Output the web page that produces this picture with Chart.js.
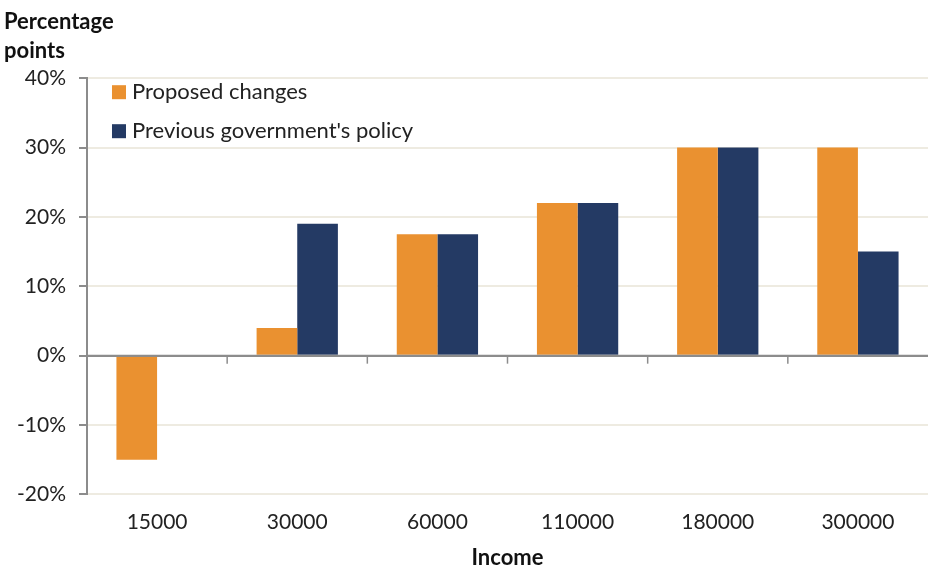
<!DOCTYPE html>
<html>
<head>
<meta charset="utf-8">
<script src="https://cdn.jsdelivr.net/npm/chart.js@4"></script>
<style>
  html, body { margin: 0; padding: 0; background: #fff; }
  #wrap { width: 928px; height: 566px; }
</style>
</head>
<body>
<div id="wrap"><canvas id="myChart" width="928" height="566"></canvas></div>
<script>
// data
const incomes = ["15000", "30000", "60000", "110000", "180000", "300000"];
const proposed = [-15, 4, 17.5, 22, 30, 30];
const previous = [null, 19, 17.5, 22, 30, 15];
const seriesNames = ["Proposed changes", "Previous government's policy"];
const yTicks = [-20, -10, 0, 10, 20, 30, 40];

const orange = "#EA9130";
const navy = "#243A64";
const axisGrey = "#8C8C8C";
const gridBeige = "#EEEBE1";
const fontFamily = "Lato, 'Open Sans', sans-serif";

// legend drawn inside the plot, top left
const insideLegend = {
  id: "insideLegend",
  afterDraw(chart) {
    const { ctx, chartArea: { left, top } } = chart;
    ctx.save();
    ctx.font = "22px " + fontFamily;
    ctx.textBaseline = "middle";
    chart.data.datasets.forEach((ds, i) => {
      const y = top + 14 + i * 39;
      ctx.fillStyle = ds.backgroundColor;
      ctx.fillRect(left + 25, y - 7, 14, 14);
      ctx.fillStyle = "#222";
      ctx.fillText(ds.label, left + 45, y);
    });
    ctx.restore();
  },
};

// small tick marks under the zero line between categories
const zeroTicks = {
  id: "zeroTicks",
  afterDatasetsDraw(chart) {
    const { ctx, scales: { x, y } } = chart;
    const y0 = y.getPixelForValue(0);
    ctx.save();
    ctx.strokeStyle = axisGrey;
    ctx.lineWidth = 1.5;
    for (let i = 1; i < incomes.length; i++) {
      const px = (x.getPixelForValue(i - 1) + x.getPixelForValue(i)) / 2;
      ctx.beginPath();
      ctx.moveTo(px, y0);
      ctx.lineTo(px, y0 + 8);
      ctx.stroke();
    }
    // zero line on top of bars
    ctx.lineWidth = 2;
    ctx.beginPath();
    ctx.moveTo(chart.chartArea.left, y0);
    ctx.lineTo(chart.chartArea.right, y0);
    ctx.stroke();
    ctx.restore();
  },
};

const data = {
  labels: incomes,
  datasets: [
    { label: seriesNames[0], data: proposed, backgroundColor: orange },
    { label: seriesNames[1], data: previous, backgroundColor: navy },
  ],
};

const config = {
  type: "bar",
  data: data,
  options: {
    responsive: false,
    animation: false,
    layout: { padding: { left: 4, right: 0, top: 0, bottom: 0 } },
    datasets: {
      bar: { categoryPercentage: 0.58, barPercentage: 1.0 },
    },
    plugins: {
      legend: { display: false },
      tooltip: { enabled: false },
      title: {
        display: true,
        text: ["Percentage", "points"],
        align: "start",
        color: "#111",
        font: { family: fontFamily, size: 22, weight: "bold", lineHeight: 1.3 },
        padding: { top: 8, bottom: 13 },
      },
    },
    scales: {
      x: {
        grid: { display: false, drawTicks: false, tickLength: 0 },
        border: { display: false },
        ticks: {
          color: "#222",
          font: { family: fontFamily, size: 21 },
          padding: 15,
        },
        title: {
          display: true,
          text: "Income",
          color: "#111",
          font: { family: fontFamily, size: 22, weight: "bold", lineHeight: 0.7 },
          padding: { top: 1, bottom: 0 },
        },
      },
      y: {
        min: -20,
        max: 40,
        afterBuildTicks(axis) {
          axis.ticks = yTicks.map((v) => ({ value: v }));
        },
        grid: {
          color: (c) => (c.tick && c.tick.value === 0 ? axisGrey : gridBeige),
          lineWidth: 2,
          tickColor: axisGrey,
          tickLength: 8,
        },
        border: { display: true, color: axisGrey, width: 2 },
        ticks: {
          color: "#222",
          font: { family: fontFamily, size: 21 },
          padding: 13,
          callback: (v) => v + "%",
        },
      },
    },
  },
  plugins: [insideLegend, zeroTicks],
};

const myChart = new Chart(document.getElementById("myChart"), config);
</script>
</body>
</html>
